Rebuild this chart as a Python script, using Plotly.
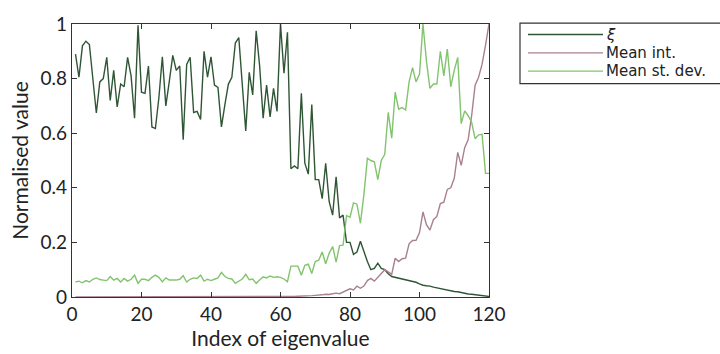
import plotly.graph_objects as go

# Eigenvalue index (1..120)
index = list(range(1, 121))

# Normalised xi per eigenvalue
xi = [
    0.890, 0.805, 0.920, 0.937, 0.925, 0.805, 0.674, 0.788, 0.800, 0.878,
    0.720, 0.830, 0.696, 0.780, 0.770, 0.878, 0.810, 0.655, 0.995, 0.750,
    0.746, 0.846, 0.623, 0.617, 0.730, 0.880, 0.700, 0.790, 0.885, 0.830,
    0.846, 0.576, 0.852, 0.878, 0.676, 0.680, 0.650, 0.900, 0.805, 0.880,
    0.776, 0.768, 0.623, 0.705, 0.780, 0.805, 0.930, 0.950, 0.790, 0.608,
    0.823, 0.740, 0.975, 0.846, 0.655, 0.776, 0.660, 0.764, 0.680, 1.000,
    0.820, 0.970, 0.470, 0.480, 0.470, 0.746, 0.490, 0.450, 0.705, 0.430,
    0.430, 0.360, 0.490, 0.350, 0.300, 0.440, 0.290, 0.300, 0.200, 0.200,
    0.156, 0.165, 0.204, 0.165, 0.130, 0.100, 0.105, 0.124, 0.105, 0.100,
    0.085, 0.075, 0.072, 0.070, 0.066, 0.063, 0.060, 0.057, 0.054, 0.048,
    0.043, 0.041, 0.040, 0.036, 0.033, 0.031, 0.028, 0.026, 0.023, 0.020,
    0.019, 0.016, 0.013, 0.011, 0.010, 0.008, 0.006, 0.005, 0.004, 0.002,
]

# Normalised mean intensity
mean_int = [0.0] * 62 + [
    0.002, 0.002, 0.003, 0.003, 0.004, 0.004, 0.005, 0.006,
    0.006, 0.008, 0.010, 0.009, 0.012, 0.014, 0.012, 0.018, 0.022, 0.030,
    0.026, 0.040, 0.032, 0.040, 0.060, 0.068, 0.058, 0.072, 0.082, 0.100,
    0.092, 0.083, 0.142, 0.130, 0.140, 0.142, 0.195, 0.207, 0.208, 0.236,
    0.312, 0.265, 0.245, 0.283, 0.295, 0.342, 0.347, 0.394, 0.400, 0.435,
    0.530, 0.482, 0.547, 0.576, 0.664, 0.776, 0.805, 0.852, 0.923, 1.000,
]

# Normalised mean standard deviation
mean_std = [
    0.055, 0.058, 0.052, 0.060, 0.055, 0.065, 0.070, 0.064, 0.062, 0.060,
    0.075, 0.062, 0.068, 0.055, 0.068, 0.058, 0.065, 0.080, 0.050, 0.065,
    0.065, 0.060, 0.072, 0.080, 0.072, 0.055, 0.070, 0.062, 0.062, 0.062,
    0.065, 0.078, 0.055, 0.065, 0.070, 0.068, 0.080, 0.058, 0.065, 0.060,
    0.065, 0.070, 0.090, 0.075, 0.068, 0.066, 0.050, 0.058, 0.066, 0.083,
    0.063, 0.066, 0.050, 0.062, 0.074, 0.070, 0.077, 0.072, 0.074, 0.072,
    0.066, 0.056, 0.113, 0.113, 0.113, 0.080, 0.116, 0.120, 0.086, 0.130,
    0.135, 0.165, 0.122, 0.160, 0.185, 0.128, 0.188, 0.190, 0.298, 0.292,
    0.345, 0.340, 0.270, 0.375, 0.508, 0.500, 0.495, 0.430, 0.500, 0.523,
    0.676, 0.582, 0.750, 0.688, 0.694, 0.685, 0.788, 0.840, 0.788, 0.817,
    1.000, 0.864, 0.764, 0.780, 0.780, 0.900, 0.810, 0.908, 0.770, 0.830,
    0.878, 0.635, 0.682, 0.664, 0.640, 0.580, 0.594, 0.596, 0.453, 0.453,
]

series_names = ["<i>ξ</i>", "Mean int.", "Mean st. dev."]
series_values = [xi, mean_int, mean_std]
colors = ["#2f5634", "#a8808f", "#82c46e"]

x_ticks = [0, 20, 40, 60, 80, 100, 120]
y_ticks = [0, 0.2, 0.4, 0.6, 0.8, 1]
y_tick_text = ["0", "0.2", "0.4", "0.6", "0.8", "1"]

FONT = "Lato"
LEGEND_FONT = "DejaVu Sans"
W, H = 720, 354
L, R, T, B = 72, 231, 13, 57
PW, PH = W - L - R, H - T - B


def px_x(p):
    return (p - L) / PW


def px_y(p):
    return (H - B - p) / PH


fig = go.Figure()
for name, vals, col in zip(series_names, series_values, colors):
    fig.add_trace(go.Scatter(x=index, y=vals, mode="lines", name=name,
                             line=dict(color=col, width=1.4), showlegend=False))

axis_common = dict(showline=True, mirror="ticks", linecolor="#333333", linewidth=1.3,
                   ticks="inside", ticklen=5, tickwidth=1.1, tickcolor="#333333",
                   showgrid=False, zeroline=False,
                   tickfont=dict(family=FONT, size=19, color="#222222"))

fig.update_layout(
    width=W, height=H,
    margin=dict(l=L, r=R, t=T, b=B),
    paper_bgcolor="white", plot_bgcolor="white",
    xaxis=dict(range=[0, 120], tickvals=x_ticks,
               title=dict(text="Index of eigenvalue", standoff=2,
                          font=dict(family=FONT, size=21, color="#222222")),
               **axis_common),
    yaxis=dict(range=[0, 1], tickvals=y_ticks, ticktext=y_tick_text,
               title=dict(text="Normalised value", standoff=6,
                          font=dict(family=FONT, size=21, color="#222222")),
               **axis_common),
)

# Legend box drawn in paper space
shapes = [dict(type="rect", xref="paper", yref="paper",
               x0=px_x(520), x1=px_x(722), y0=px_y(75), y1=px_y(12),
               line=dict(color="#333333", width=1.2), fillcolor="white")]
annotations = []
for i, (name, col) in enumerate(zip(series_names, colors)):
    yy = 24 + 19 * i
    shapes.append(dict(type="line", xref="paper", yref="paper",
                       x0=px_x(528), x1=px_x(603), y0=px_y(yy), y1=px_y(yy),
                       line=dict(color=col, width=1.4)))
    annotations.append(dict(xref="paper", yref="paper", x=px_x(604), y=px_y(yy),
                            text=name, showarrow=False, xanchor="left", yanchor="middle",
                            font=dict(family=LEGEND_FONT, size=15, color="#222222")))
fig.update_layout(shapes=shapes, annotations=annotations)

fig.write_html("out.html")
